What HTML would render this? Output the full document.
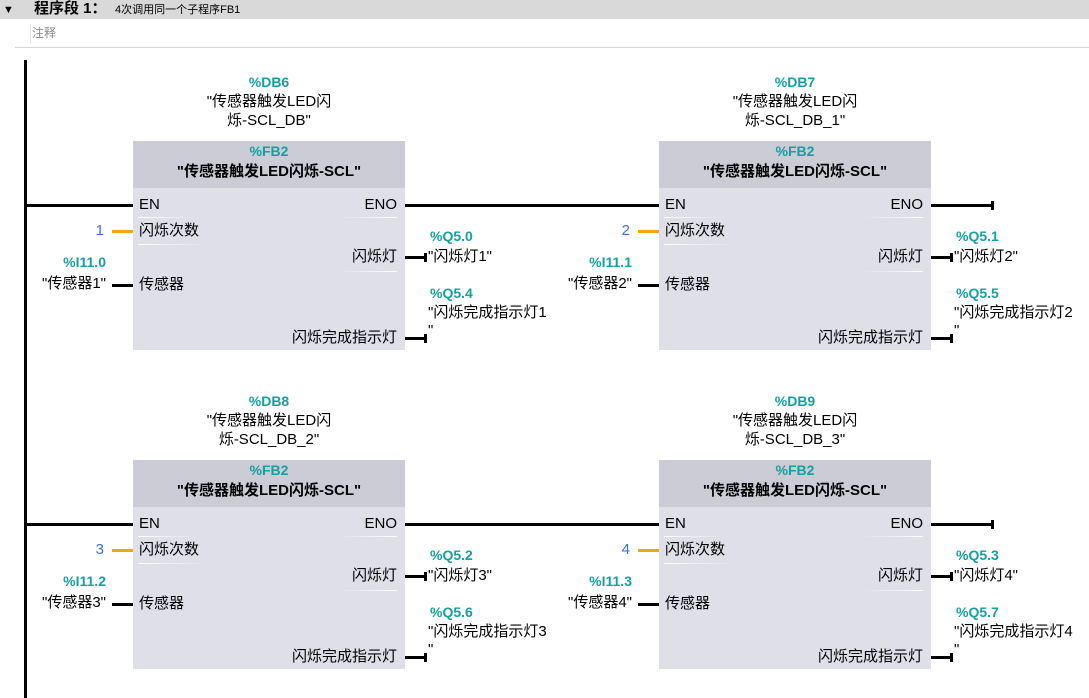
<!DOCTYPE html>
<html><head><meta charset="utf-8"><style>
body{margin:0;width:1089px;height:698px;background:#fff;position:relative;overflow:hidden;font-family:"Liberation Sans","Noto Sans CJK SC",sans-serif;font-size:15px;color:#000}
.a{position:absolute;white-space:nowrap;line-height:18px}
.t{color:#159fa0;font-weight:bold;font-size:14px}
.g{position:absolute;width:272px;height:209px}
.blk{position:absolute;left:0;top:0;width:272px;height:209px;background:#dfdfe7}
.hd{position:absolute;left:0;top:0;width:272px;height:47px;background:#cbccd6}
.w{position:absolute;background:#000}
.o{position:absolute;background:#f5a31b}
.sep{position:absolute;height:1px;background:linear-gradient(90deg,#fff,rgba(255,255,255,0))}
.sepr{position:absolute;height:1px;background:linear-gradient(270deg,#fff,rgba(255,255,255,0))}
.c{text-align:center;width:272px;left:0}
.r{text-align:right}
.n{color:#3a6fd6}
</style></head><body>
<div class="a" style="left:0;top:0;width:1089px;height:19px;background:#d9d9d9"></div>
<div class="a" style="left:3px;top:1px;font-size:11px">▼</div>
<div class="a" style="left:34px;top:0;font-weight:bold;font-size:15px">程序段 1：</div>
<div class="a" style="left:115px;top:1px;font-size:11px">4次调用同一个子程序FB1</div>
<div class="a" style="left:30px;top:24px;width:1px;height:20px;background:#e6e6e6"></div>
<div class="a" style="left:32px;top:24px;font-size:12px;color:#888">注释</div>
<div class="a" style="left:15px;top:47px;width:1074px;height:1px;background:#d4d3e3"></div>
<div class="w" style="left:24px;top:60px;width:3px;height:638px"></div>
<div class="w" style="left:26px;top:204px;width:107px;height:3px"></div>
<div class="w" style="left:405px;top:204px;width:254px;height:3px"></div>
<div class="w" style="left:931px;top:204px;width:62px;height:3px"></div>
<div class="w" style="left:991px;top:201px;width:3px;height:9px"></div>
<div class="w" style="left:26px;top:523px;width:107px;height:3px"></div>
<div class="w" style="left:405px;top:523px;width:254px;height:3px"></div>
<div class="w" style="left:931px;top:523px;width:62px;height:3px"></div>
<div class="w" style="left:991px;top:520px;width:3px;height:9px"></div>

<!-- block 1 -->
<div class="g" style="left:133px;top:141px">
<div class="a t c" style="top:-68px">%DB6</div>
<div class="a c" style="top:-48px">"传感器触发LED闪</div>
<div class="a c" style="top:-29px">烁-SCL_DB"</div>
<div class="blk"></div><div class="hd"></div>
<div class="a t c" style="top:1px">%FB2</div>
<div class="a c" style="top:22px;font-weight:bold;font-size:15px">"传感器触发LED闪烁-SCL"</div>
<div class="a" style="left:6px;top:55px">EN</div>
<div class="a r" style="right:8px;top:55px">ENO</div>
<div class="sep" style="left:5px;top:76px;width:60px"></div>
<div class="sep" style="left:5px;top:103px;width:70px"></div>
<div class="sepr" style="right:8px;top:76px;width:60px"></div>
<div class="sepr" style="right:8px;top:130px;width:60px"></div>
<div class="a" style="left:6px;top:81px">闪烁次数</div>
<div class="a r" style="right:8px;top:107px">闪烁灯</div>
<div class="a" style="left:6px;top:135px">传感器</div>
<div class="a r" style="right:8px;top:188px">闪烁完成指示灯</div>
<div class="a r n" style="right:301px;top:81px">1</div>
<div class="o" style="left:-21px;top:89px;width:21px;height:3px"></div>
<div class="a t r" style="right:299px;top:112px">%I11.0</div>
<div class="a r" style="right:299px;top:134px">"传感器1"</div>
<div class="w" style="left:-21px;top:143px;width:21px;height:3px"></div>
<div class="w" style="left:272px;top:115px;width:20px;height:3px"></div>
<div class="w" style="left:291px;top:112px;width:3px;height:9px"></div>
<div class="w" style="left:272px;top:196px;width:20px;height:3px"></div>
<div class="w" style="left:291px;top:193px;width:3px;height:9px"></div>
<div class="a t" style="left:297px;top:86px">%Q5.0</div>
<div class="a" style="left:295px;top:107px">"闪烁灯1"</div>
<div class="a t" style="left:297px;top:143px">%Q5.4</div>
<div class="a" style="left:295px;top:163px">"闪烁完成指示灯1</div>
<div class="a" style="left:295px;top:181px">"</div>
</div>

<!-- block 2 -->
<div class="g" style="left:659px;top:141px">
<div class="a t c" style="top:-68px">%DB7</div>
<div class="a c" style="top:-48px">"传感器触发LED闪</div>
<div class="a c" style="top:-29px">烁-SCL_DB_1"</div>
<div class="blk"></div><div class="hd"></div>
<div class="a t c" style="top:1px">%FB2</div>
<div class="a c" style="top:22px;font-weight:bold;font-size:15px">"传感器触发LED闪烁-SCL"</div>
<div class="a" style="left:6px;top:55px">EN</div>
<div class="a r" style="right:8px;top:55px">ENO</div>
<div class="sep" style="left:5px;top:76px;width:60px"></div>
<div class="sep" style="left:5px;top:103px;width:70px"></div>
<div class="sepr" style="right:8px;top:76px;width:60px"></div>
<div class="sepr" style="right:8px;top:130px;width:60px"></div>
<div class="a" style="left:6px;top:81px">闪烁次数</div>
<div class="a r" style="right:8px;top:107px">闪烁灯</div>
<div class="a" style="left:6px;top:135px">传感器</div>
<div class="a r" style="right:8px;top:188px">闪烁完成指示灯</div>
<div class="a r n" style="right:301px;top:81px">2</div>
<div class="o" style="left:-21px;top:89px;width:21px;height:3px"></div>
<div class="a t r" style="right:299px;top:112px">%I11.1</div>
<div class="a r" style="right:299px;top:134px">"传感器2"</div>
<div class="w" style="left:-21px;top:143px;width:21px;height:3px"></div>
<div class="w" style="left:272px;top:115px;width:20px;height:3px"></div>
<div class="w" style="left:291px;top:112px;width:3px;height:9px"></div>
<div class="w" style="left:272px;top:196px;width:20px;height:3px"></div>
<div class="w" style="left:291px;top:193px;width:3px;height:9px"></div>
<div class="a t" style="left:297px;top:86px">%Q5.1</div>
<div class="a" style="left:295px;top:107px">"闪烁灯2"</div>
<div class="a t" style="left:297px;top:143px">%Q5.5</div>
<div class="a" style="left:295px;top:163px">"闪烁完成指示灯2</div>
<div class="a" style="left:295px;top:181px">"</div>
</div>

<!-- block 3 -->
<div class="g" style="left:133px;top:460px">
<div class="a t c" style="top:-68px">%DB8</div>
<div class="a c" style="top:-48px">"传感器触发LED闪</div>
<div class="a c" style="top:-29px">烁-SCL_DB_2"</div>
<div class="blk"></div><div class="hd"></div>
<div class="a t c" style="top:1px">%FB2</div>
<div class="a c" style="top:22px;font-weight:bold;font-size:15px">"传感器触发LED闪烁-SCL"</div>
<div class="a" style="left:6px;top:55px">EN</div>
<div class="a r" style="right:8px;top:55px">ENO</div>
<div class="sep" style="left:5px;top:76px;width:60px"></div>
<div class="sep" style="left:5px;top:103px;width:70px"></div>
<div class="sepr" style="right:8px;top:76px;width:60px"></div>
<div class="sepr" style="right:8px;top:130px;width:60px"></div>
<div class="a" style="left:6px;top:81px">闪烁次数</div>
<div class="a r" style="right:8px;top:107px">闪烁灯</div>
<div class="a" style="left:6px;top:135px">传感器</div>
<div class="a r" style="right:8px;top:188px">闪烁完成指示灯</div>
<div class="a r n" style="right:301px;top:81px">3</div>
<div class="o" style="left:-21px;top:89px;width:21px;height:3px"></div>
<div class="a t r" style="right:299px;top:112px">%I11.2</div>
<div class="a r" style="right:299px;top:134px">"传感器3"</div>
<div class="w" style="left:-21px;top:143px;width:21px;height:3px"></div>
<div class="w" style="left:272px;top:115px;width:20px;height:3px"></div>
<div class="w" style="left:291px;top:112px;width:3px;height:9px"></div>
<div class="w" style="left:272px;top:196px;width:20px;height:3px"></div>
<div class="w" style="left:291px;top:193px;width:3px;height:9px"></div>
<div class="a t" style="left:297px;top:86px">%Q5.2</div>
<div class="a" style="left:295px;top:107px">"闪烁灯3"</div>
<div class="a t" style="left:297px;top:143px">%Q5.6</div>
<div class="a" style="left:295px;top:163px">"闪烁完成指示灯3</div>
<div class="a" style="left:295px;top:181px">"</div>
</div>

<!-- block 4 -->
<div class="g" style="left:659px;top:460px">
<div class="a t c" style="top:-68px">%DB9</div>
<div class="a c" style="top:-48px">"传感器触发LED闪</div>
<div class="a c" style="top:-29px">烁-SCL_DB_3"</div>
<div class="blk"></div><div class="hd"></div>
<div class="a t c" style="top:1px">%FB2</div>
<div class="a c" style="top:22px;font-weight:bold;font-size:15px">"传感器触发LED闪烁-SCL"</div>
<div class="a" style="left:6px;top:55px">EN</div>
<div class="a r" style="right:8px;top:55px">ENO</div>
<div class="sep" style="left:5px;top:76px;width:60px"></div>
<div class="sep" style="left:5px;top:103px;width:70px"></div>
<div class="sepr" style="right:8px;top:76px;width:60px"></div>
<div class="sepr" style="right:8px;top:130px;width:60px"></div>
<div class="a" style="left:6px;top:81px">闪烁次数</div>
<div class="a r" style="right:8px;top:107px">闪烁灯</div>
<div class="a" style="left:6px;top:135px">传感器</div>
<div class="a r" style="right:8px;top:188px">闪烁完成指示灯</div>
<div class="a r n" style="right:301px;top:81px">4</div>
<div class="o" style="left:-21px;top:89px;width:21px;height:3px"></div>
<div class="a t r" style="right:299px;top:112px">%I11.3</div>
<div class="a r" style="right:299px;top:134px">"传感器4"</div>
<div class="w" style="left:-21px;top:143px;width:21px;height:3px"></div>
<div class="w" style="left:272px;top:115px;width:20px;height:3px"></div>
<div class="w" style="left:291px;top:112px;width:3px;height:9px"></div>
<div class="w" style="left:272px;top:196px;width:20px;height:3px"></div>
<div class="w" style="left:291px;top:193px;width:3px;height:9px"></div>
<div class="a t" style="left:297px;top:86px">%Q5.3</div>
<div class="a" style="left:295px;top:107px">"闪烁灯4"</div>
<div class="a t" style="left:297px;top:143px">%Q5.7</div>
<div class="a" style="left:295px;top:163px">"闪烁完成指示灯4</div>
<div class="a" style="left:295px;top:181px">"</div>
</div>
</body></html>
